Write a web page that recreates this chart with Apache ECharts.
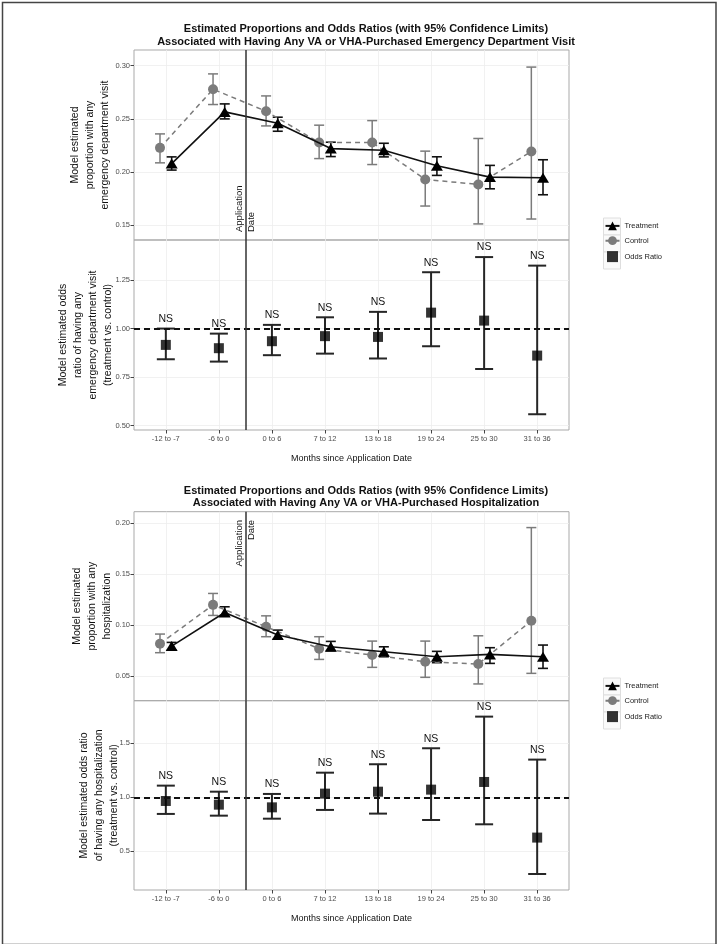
<!DOCTYPE html>
<html><head><meta charset="utf-8">
<script src="https://cdn.jsdelivr.net/npm/echarts@6/dist/echarts.min.js"></script>
<style>html,body{margin:0;padding:0;background:#fff}#c{width:717px;height:944px}</style>
</head><body><div id="c"></div>
<script>
const categories = ['-12 to -7','-6 to 0','0 to 6','7 to 12','13 to 18','19 to 24','25 to 30','31 to 36'];
const xTicks = [1,2,3,4,5,6,7,8];
const appDateX = 2.5;

// Emergency department visit
const edControl     = [0.2228,0.2779,0.2572,0.2278,0.2278,0.1931,0.1884,0.2194];
const edControlLow  = [0.2087,0.2635,0.2434,0.2127,0.2071,0.1681,0.1513,0.1559];
const edControlHigh = [0.2359,0.2923,0.2716,0.2441,0.2484,0.2197,0.2316,0.2987];
const edTreat       = [0.2080,0.2566,0.2459,0.2221,0.2206,0.2059,0.1953,0.1947];
const edTreatLow    = [0.2019,0.2500,0.2384,0.2146,0.2143,0.1969,0.1843,0.1787];
const edTreatHigh   = [0.2143,0.2641,0.2516,0.2281,0.2271,0.2144,0.2063,0.2116];
const edOR          = [0.916,0.899,0.935,0.961,0.957,1.082,1.041,0.861];
const edORLow       = [0.842,0.830,0.863,0.871,0.846,0.909,0.792,0.559];
const edORHigh      = [1.000,0.974,1.019,1.058,1.086,1.290,1.368,1.324];
const edSig         = ['NS','NS','NS','NS','NS','NS','NS','NS'];

// Hospitalization
const hoControl     = [0.0817,0.1199,0.0984,0.0768,0.0706,0.0640,0.0618,0.1042];
const hoControlLow  = [0.0729,0.1095,0.0886,0.0663,0.0585,0.0487,0.0422,0.0526];
const hoControlHigh = [0.0912,0.1311,0.1091,0.0886,0.0843,0.0843,0.0895,0.1958];
const hoTreat       = [0.0794,0.1124,0.0902,0.0788,0.0738,0.0689,0.0712,0.0689];
const hoTreatLow    = [0.0755,0.1088,0.0863,0.0748,0.0689,0.0631,0.0624,0.0575];
const hoTreatHigh   = [0.0830,0.1180,0.0951,0.0840,0.0787,0.0742,0.0778,0.0804];
const hoOR          = [0.966,0.932,0.907,1.034,1.052,1.071,1.142,0.627];
const hoORLow       = [0.846,0.830,0.802,0.883,0.849,0.790,0.750,0.290];
const hoORHigh      = [1.108,1.052,1.031,1.228,1.306,1.454,1.747,1.349];
const hoSig         = ['NS','NS','NS','NS','NS','NS','NS','NS'];

const edPropTicks = [0.15,0.20,0.25,0.30];
const edOddsTicks = [0.50,0.75,1.00,1.25];
const hoPropTicks = [0.05,0.10,0.15,0.20];
const hoOddsTicks = [0.5,1.0,1.5];

const FONT = '"Liberation Sans", Arial, Helvetica, sans-serif';
const DODGE = 0.11;
const GREY = '#7b7b7b';

function pts(vals, off){ return vals.map((v,i)=>[xTicks[i]+off, v]); }
function errs(lo, hi, off){ return lo.map((v,i)=>[xTicks[i]+off, v, hi[i]]); }
function errsLab(lo, hi, lab){ return lo.map((v,i)=>[xTicks[i], v, hi[i], lab[i]]); }

function errRender(capHalf, color, width, withLabel){
  return function(params, api){
    const x = api.value(0), lo = api.value(1), hi = api.value(2);
    const pl = api.coord([x, lo]), ph = api.coord([x, hi]);
    const style = {stroke: color, lineWidth: width, fill: null};
    const ch = [
      {type:'line', shape:{x1:pl[0],y1:pl[1],x2:ph[0],y2:ph[1]}, style},
      {type:'line', shape:{x1:pl[0]-capHalf,y1:pl[1],x2:pl[0]+capHalf,y2:pl[1]}, style},
      {type:'line', shape:{x1:ph[0]-capHalf,y1:ph[1],x2:ph[0]+capHalf,y2:ph[1]}, style}
    ];
    if (withLabel) {
      ch.push({type:'text', x: ph[0], y: ph[1]-4, style:{text: api.value(3), fill:'#111', font:'10.5px ' + FONT, textAlign:'center', textVerticalAlign:'bottom'}});
    }
    return {type:'group', children: ch};
  };
}

function appDateRender(alignEnd){
  return function(params, api){
    const p = api.coord([api.value(0), api.value(1)]);
    return {type:'text', x: p[0], y: p[1], rotation: Math.PI/2,
      style:{text:'Application\nDate', fill:'#111', font:'9.5px ' + FONT, lineHeight: 12.5,
        textAlign: alignEnd ? 'right' : 'left', textVerticalAlign:'middle'}};
  };
}

const grids = [
  {left:134, right:148, top:50,    height:190},
  {left:134, right:148, top:240,   height:190},
  {left:134, right:148, top:511.7, height:189},
  {left:134, right:148, top:700.7, height:189.3}
].map(g => Object.assign(g, {show:true, borderColor:'#a9a9a9', borderWidth:1, backgroundColor:'transparent'}));

function xAx(gi, showLabels){
  return {type:'value', gridIndex:gi, min:0.4, max:8.6,
    axisLine:{show:false},
    axisTick:{show:showLabels, length:3.5, lineStyle:{color:'#444'}, customValues:xTicks},
    axisLabel:{show:showLabels, customValues:xTicks, fontSize:7.5, color:'#4d4d4d', margin:5, fontFamily:FONT,
      formatter: v => categories[Math.round(v)-1]},
    splitLine:{show:true, lineStyle:{color:'#eeeeee', width:0.8}},
    name: showLabels ? 'Months since Application Date' : '', nameLocation:'middle', nameGap:24,
    nameTextStyle:{fontSize:9, color:'#111', fontFamily:FONT}
  };
}
function yAx(gi, min, max, ticks, dec, name, gap){
  return {type:'value', gridIndex:gi, min, max,
    axisLine:{show:false},
    axisTick:{show:true, length:3.5, lineStyle:{color:'#444'}, customValues:ticks},
    axisLabel:{customValues:ticks, fontSize:7.5, color:'#4d4d4d', margin:4, fontFamily:FONT,
      formatter: v => v.toFixed(dec)},
    splitLine:{show:true, lineStyle:{color:'#eeeeee', width:0.8}},
    name, nameLocation:'middle', nameRotate:90, nameGap:gap, nameMoveOverlap:false,
    nameTextStyle:{fontSize:10.5, lineHeight:15, color:'#111', fontFamily:FONT}
  };
}

function panelSeries(xi, ctrl, cLo, cHi, trt, tLo, tHi){
  return [
    {name:'Control', type:'line', xAxisIndex:xi, yAxisIndex:xi, data: pts(ctrl, -DODGE),
      symbol:'circle', symbolSize:10, itemStyle:{color:GREY}, lineStyle:{color:GREY, width:1.5, type:[5,4]}, z:3, silent:true},
    {name:'Treatment', type:'line', xAxisIndex:xi, yAxisIndex:xi, data: pts(trt, DODGE),
      symbol:'triangle', symbolSize:[12,10], itemStyle:{color:'#000'}, lineStyle:{color:'#111', width:1.6}, z:4, silent:true,
      markLine:{silent:true, symbol:'none', label:{show:false}, lineStyle:{color:'#333', width:1.5, type:'solid'}, data:[{xAxis:appDateX}]}},
    {name:'ctrlErr'+xi, type:'custom', xAxisIndex:xi, yAxisIndex:xi, data: errs(cLo, cHi, -DODGE),
      encode:{x:0, y:[1,2]}, renderItem: errRender(5, GREY, 1.5, false), z:2, silent:true},
    {name:'trtErr'+xi, type:'custom', xAxisIndex:xi, yAxisIndex:xi, data: errs(tLo, tHi, DODGE),
      encode:{x:0, y:[1,2]}, renderItem: errRender(5, '#111', 1.6, false), z:2, silent:true}
  ];
}
function oddsSeries(xi, or, lo, hi, sig){
  return [
    {name:'Odds Ratio', type:'scatter', xAxisIndex:xi, yAxisIndex:xi, data: pts(or, 0),
      symbol:'rect', symbolSize:10, itemStyle:{color:'#000'}, z:4, silent:true,
      markLine:{silent:true, symbol:'none', label:{show:false},
        data:[{yAxis:1, lineStyle:{color:'#111', width:1.8, type:[6,4]}},
              {xAxis:appDateX, lineStyle:{color:'#333', width:1.5, type:'solid'}}]}},
    {name:'orErr'+xi, type:'custom', xAxisIndex:xi, yAxisIndex:xi, data: errsLab(lo, hi, sig),
      encode:{x:0, y:[1,2]}, renderItem: errRender(9, '#262626', 2, true), z:2, silent:true}
  ];
}

const legendItems = [{name:'Treatment'},{name:'Control'},{name:'Odds Ratio', icon:'path://M0,0L10,0L10,10L0,10Z'}];
function legendBoxes(top){
  return [0,1,2].map(i => ({type:'rect', left:603, top:top + i*17, shape:{x:0, y:0, width:17, height:17},
    style:{fill:'#fafafa', stroke:'#dedede', lineWidth:1}, silent:true, z:-1}));
}

const option = {
  backgroundColor:'#fff',
  animation:false,
  textStyle:{fontFamily:FONT},
  title:[
    {text:'Estimated Proportions and Odds Ratios (with 95% Confidence Limits)\nAssociated with Having Any VA or VHA-Purchased Emergency Department Visit',
      left:361, top:18, textAlign:'center', textStyle:{fontSize:11, fontWeight:'bold', lineHeight:12.6, color:'#111', fontFamily:FONT}},
    {text:'Estimated Proportions and Odds Ratios (with 95% Confidence Limits)\nAssociated with Having Any VA or VHA-Purchased Hospitalization',
      left:361, top:480, textAlign:'center', textStyle:{fontSize:11, fontWeight:'bold', lineHeight:12, color:'#111', fontFamily:FONT}}
  ],
  legend:[
    {data:legendItems, orient:'vertical', left:604.5, top:221.5, itemWidth:14, itemHeight:11, itemGap:6, padding:0,
      textStyle:{fontSize:7.5, color:'#222', fontFamily:FONT}, selectedMode:false},
    {data:legendItems, orient:'vertical', left:604.5, top:681.5, itemWidth:14, itemHeight:11, itemGap:6, padding:0,
      textStyle:{fontSize:7.5, color:'#222', fontFamily:FONT}, selectedMode:false}
  ],
  grid: grids,
  xAxis:[xAx(0,false), xAx(1,true), xAx(2,false), xAx(3,true)],
  yAxis:[
    yAx(0, 0.13618, 0.31476, edPropTicks, 2, 'Model estimated\nproportion with any\nemergency department visit', 21.5),
    yAx(1, 0.4779, 1.4559, edOddsTicks, 2, 'Model estimated odds\nratio of having any\nemergency department visit\n(treatment vs. control)', 18.5),
    yAx(2, 0.02574, 0.2114, hoPropTicks, 2, 'Model estimated\nproportion with any\nhospitalization', 19.5),
    yAx(3, 0.1417, 1.8944, hoOddsTicks, 1, 'Model estimated odds ratio\nof having any hospitalization\n(treatment vs. control)', 12.5)
  ],
  series: [
    ...panelSeries(0, edControl, edControlLow, edControlHigh, edTreat, edTreatLow, edTreatHigh),
    ...oddsSeries(1, edOR, edORLow, edORHigh, edSig),
    ...panelSeries(2, hoControl, hoControlLow, hoControlHigh, hoTreat, hoTreatLow, hoTreatHigh),
    ...oddsSeries(3, hoOR, hoORLow, hoORHigh, hoSig),
    {name:'appDate0', type:'custom', xAxisIndex:0, yAxisIndex:0, data:[[appDateX, 0.1437]], encode:{x:0,y:1},
      renderItem: appDateRender(false), z:5, silent:true},
    {name:'appDate2', type:'custom', xAxisIndex:2, yAxisIndex:2, data:[[appDateX, 0.2032]], encode:{x:0,y:1},
      renderItem: appDateRender(true), z:5, silent:true}
  ],
  graphic:[
    {type:'rect', left:0, top:0, shape:{x:0.75, y:0.75, width:713.5, height:942}, style:{fill:null, stroke:'#444', lineWidth:1.5}, silent:true, z:-1},
    ...legendBoxes(217.5),
    ...legendBoxes(677.5)
  ]
};

const chart = echarts.init(document.getElementById('c'), null, {renderer:'canvas'});
chart.setOption(option);
</script>
</body></html>
